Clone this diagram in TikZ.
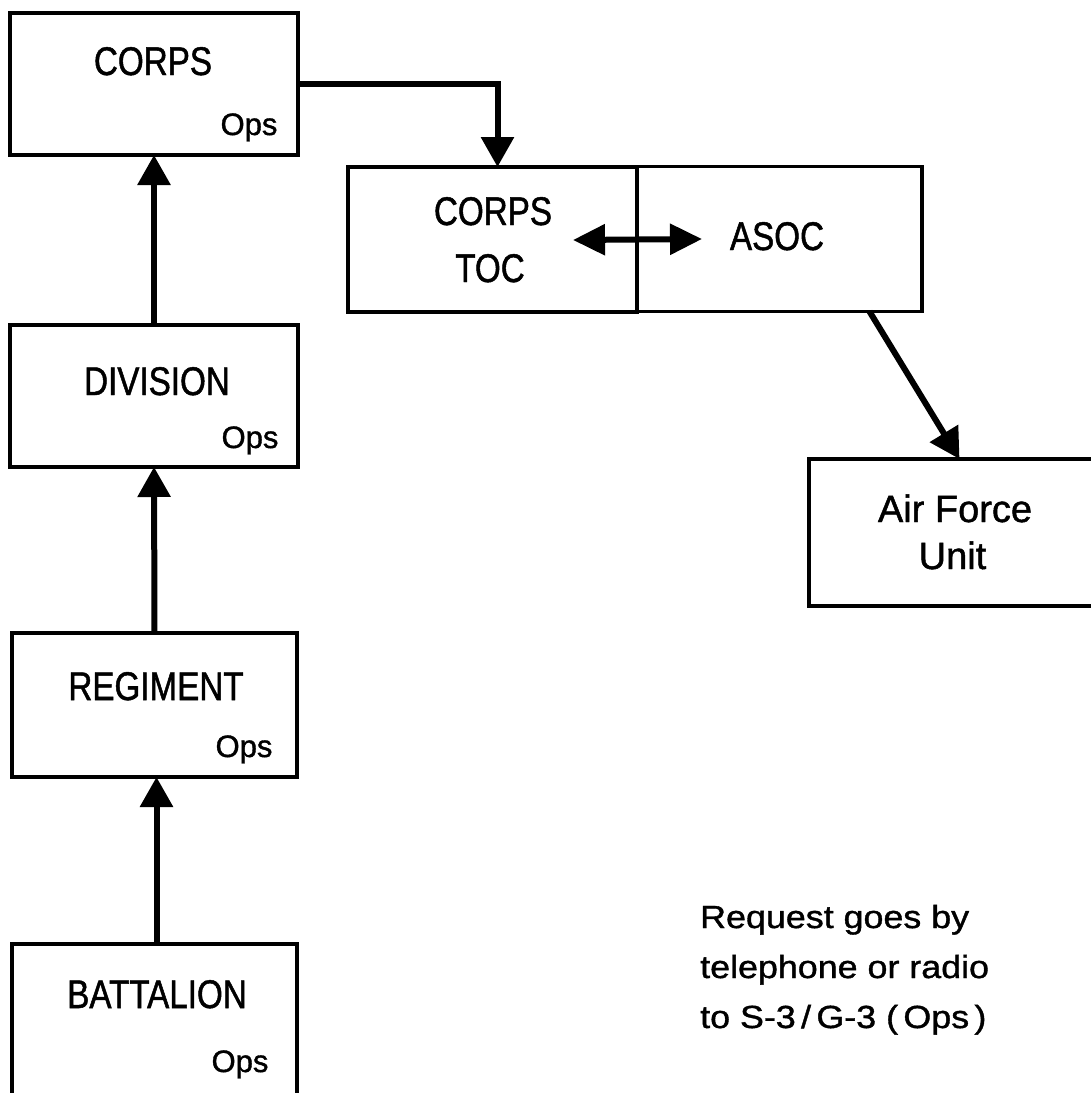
\documentclass[tikz,border=0pt]{standalone}
\usepackage{fontspec}
\setmainfont{Liberation Sans}
\newfontfamily\titlefont{Liberation Sans}[FakeStretch=0.83, FakeBold=1.2]
\newfontfamily\opsfont{Liberation Sans}[FakeBold=1.2]
\newfontfamily\notefont{Liberation Sans}[FakeStretch=1.12, FakeBold=1.2]
\usetikzlibrary{arrows.meta}
\begin{document}
\begin{tikzpicture}[x=1pt,y=-1pt,
  box/.style={draw, line width=3.5pt, rectangle, inner sep=0pt, outer sep=0pt},
  title/.style={font=\titlefont\fontsize{40}{40}\selectfont, inner sep=0pt, anchor=base},
  opslabel/.style={font=\opsfont\fontsize{31}{31}\selectfont, inner sep=0pt, anchor=base},
  aflabel/.style={font=\opsfont\fontsize{38}{38}\selectfont, inner sep=0pt, anchor=base},
  conn/.style={line width=6pt, -{Triangle[length=30pt,width=32pt]}},
  dconn/.style={line width=6pt, {Triangle[length=32pt,width=30pt]}-{Triangle[length=32pt,width=30pt]}}
]
\useasboundingbox (0,0) rectangle (1091,1093);
\clip (0,0) rectangle (1091,1093);
\fill[white] (0,0) rectangle (1091,1093);

% boxes
\node[box, minimum width=288pt, minimum height=142pt] (corps) at (154,84) {};
\node[box, minimum width=288pt, minimum height=142pt] (division) at (154,396) {};
\node[box, minimum width=285pt, minimum height=144pt] (regiment) at (154.5,705) {};
\node[box, minimum width=285pt, minimum height=172pt] (battalion) at (154.5,1030) {};
\node[box, minimum width=289pt, minimum height=145pt] (toc) at (492.5,239.5) {};
\node[box, minimum width=285pt, minimum height=145pt] (asoc) at (779.5,239) {};
\node[box, minimum width=301pt, minimum height=147pt] (af) at (959.5,532.5) {};

% texts
\node[title] (corpsT) at (153,75) {CORPS};
\node[opslabel] (corpsO) at (249,135) {Ops};
\node[title] (divT) at (157,395) {DIVISION};
\node[opslabel] (divO) at (250,448) {Ops};
\node[title] (regT) at (156,700) {REGIMENT};
\node[opslabel] (regO) at (244,757) {Ops};
\node[title] (batT) at (157,1008) {BATTALION};
\node[opslabel] (batO) at (240,1072) {Ops};
\node[title] (tocT1) at (493,225) {CORPS};
\node[title] (tocT2) at (490,282) {TOC};
\node[title] (asocT) at (777,250) {ASOC};
\node[aflabel] (afT1) at (955,522) {Air Force};
\node[aflabel] (afT2) at (952.5,569) {Unit};
\node[font=\notefont\fontsize{32}{50}\selectfont, inner sep=0pt, anchor=base west, align=left] (note) at (700,1028)
  {Request goes by\\telephone or radio\\to S-3\,/\,G-3 (\,Ops\,)};

% connectors
\draw[conn] (corps.east) -| ([xshift=5pt]toc.north);
\draw[conn] (division.north) -- (corps.south);
\draw[conn] (regiment.north) -- (division.south);
\draw[conn] ([xshift=2pt]battalion.north) -- ([xshift=2pt]regiment.south);
\coordinate (dl) at (573,240);
\coordinate (dr) at (702,239);
\draw[dconn] (dl) -- (dr);
\draw[conn] ([xshift=90pt]asoc.south) -- (af.north);
\end{tikzpicture}
\end{document}
